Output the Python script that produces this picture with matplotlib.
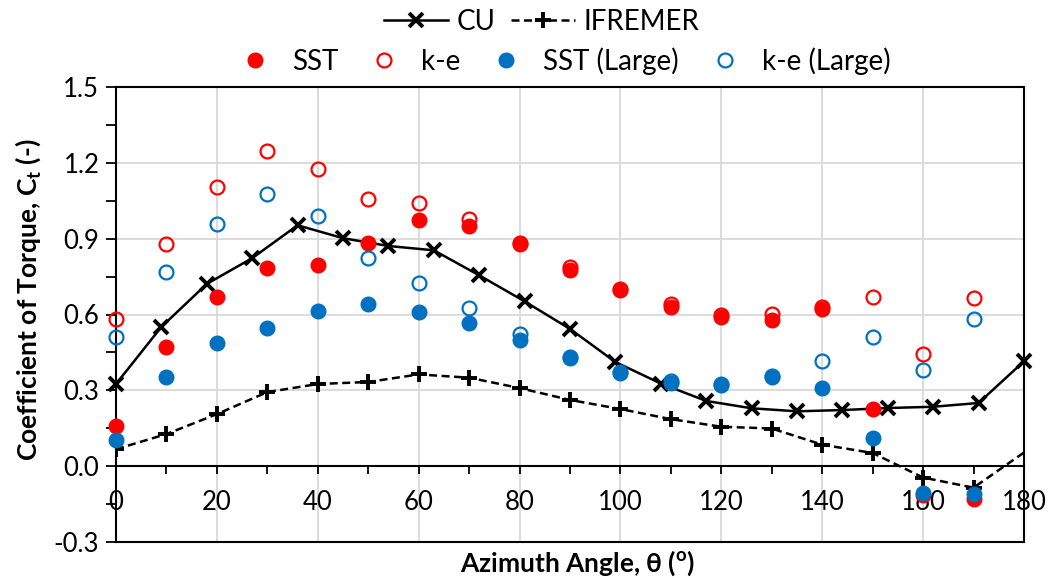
import matplotlib
matplotlib.use("Agg")
import matplotlib.pyplot as plt
from matplotlib.lines import Line2D
from matplotlib.ticker import MultipleLocator

plt.rcParams['font.family'] = ['Lato', 'DejaVu Sans']
plt.rcParams['mathtext.fontset'] = 'custom'
plt.rcParams['mathtext.rm'] = 'Lato'
plt.rcParams['mathtext.bf'] = 'Lato:bold'

# CU experimental curve (every 9 degrees)
cu_theta = [0, 9, 18, 27, 36, 45, 54, 63, 72, 81, 90, 99, 108, 117, 126, 135,
            144, 153, 162, 171, 180]
cu_ct = [0.325, 0.551, 0.721, 0.823, 0.953, 0.902, 0.871, 0.854, 0.755, 0.652,
         0.543, 0.412, 0.327, 0.258, 0.229, 0.217, 0.222, 0.230, 0.235, 0.250,
         0.415]

# IFREMER experimental curve
if_theta = [0, 10, 20, 30, 40, 50, 60, 70, 80, 90, 100, 110, 120, 130, 140,
            150, 160, 170, 180]
if_ct = [0.067, 0.127, 0.206, 0.293, 0.325, 0.333, 0.363, 0.350, 0.309, 0.262,
         0.226, 0.186, 0.156, 0.149, 0.085, 0.052, -0.045, -0.085, 0.054]

# CFD results
cfd_theta = [0, 10, 20, 30, 40, 50, 60, 70, 80, 90, 100, 110, 120, 130, 140,
             150, 160, 170]
sst = [0.157, 0.473, 0.671, 0.783, 0.794, 0.884, 0.972, 0.949, 0.877, 0.778,
       0.698, 0.630, 0.590, 0.579, 0.620, 0.226, -0.115, -0.131]
ke = [0.583, 0.880, 1.104, 1.247, 1.174, 1.055, 1.042, 0.979, 0.882, 0.786,
      0.702, 0.640, 0.598, 0.602, 0.628, 0.669, 0.444, 0.666]
sst_large = [0.104, 0.351, 0.486, 0.547, 0.612, 0.642, 0.609, 0.566, 0.499,
             0.427, 0.367, 0.330, 0.325, 0.354, 0.309, 0.110, -0.107, -0.111]
ke_large = [0.512, 0.770, 0.959, 1.078, 0.988, 0.824, 0.725, 0.625, 0.523,
            0.432, 0.372, 0.336, 0.322, 0.358, 0.417, 0.510, 0.382, 0.583]

x_ticks = [0, 20, 40, 60, 80, 100, 120, 140, 160, 180]
y_ticks = [-0.3, 0.0, 0.3, 0.6, 0.9, 1.2, 1.5]

RED = '#FF0000'
BLUE = '#0070C0'
GRID = '#D9D9D9'
DASH = (0, (3.2, 1.8))

TICK_FS = 18.5
LABEL_FS = 19
LEG_FS = 20

fig = plt.figure(figsize=(10.5, 5.78), dpi=100)
ax = fig.add_axes([116 / 1050, 1 - 542 / 578, (1024 - 116) / 1050, (542 - 87) / 578])

ax.set_xlim(0, 180)
ax.set_ylim(-0.3, 1.5)

# grid
ax.set_xticks(x_ticks)
ax.xaxis.set_minor_locator(MultipleLocator(10))
ax.set_yticks(y_ticks)
ax.yaxis.set_minor_locator(MultipleLocator(0.15))
ax.grid(True, which='major', color=GRID, linewidth=1.3, zorder=0)
ax.set_axisbelow(True)

# x axis crosses at Ct = 0; frame kept around the plot area
for side in ['left', 'right', 'top', 'bottom']:
    ax.spines[side].set_color('black')
    ax.spines[side].set_linewidth(1.5)
ax.spines['bottom'].set_position(('data', 0.0))
ax.plot([0, 1], [0, 0], transform=ax.transAxes, color='black', lw=1.5,
        clip_on=False, zorder=5)

ax.tick_params(axis='x', which='both', direction='out', length=6, width=1.3,
               pad=11, labelsize=TICK_FS, colors='black')
ax.tick_params(axis='x', which='minor', labelbottom=False)
ax.tick_params(axis='y', which='both', direction='out', length=7, width=1.3,
               pad=5, labelsize=TICK_FS, colors='black')
ax.set_yticklabels([f'{v:.1f}' for v in y_ticks])
ax.set_xticklabels([str(v) for v in x_ticks])

# series
ax.plot(cu_theta, cu_ct, color='black', lw=1.8, marker='x', ms=10, mew=2.8,
        zorder=6, clip_on=False)
ax.plot(if_theta, if_ct, color='black', lw=1.8, ls=DASH, marker='+',
        ms=11, mew=2.8, markevery=list(range(len(if_theta) - 1)), zorder=6,
        clip_on=True)
ax.plot(cfd_theta, sst, ls='none', marker='o', ms=10.5, color=RED, mec=RED,
        zorder=7, clip_on=False)
ax.plot(cfd_theta, ke, ls='none', marker='o', ms=10, mfc='none', mec=RED,
        mew=1.6, zorder=7, clip_on=False)
ax.plot(cfd_theta, sst_large, ls='none', marker='o', ms=10.5, color=BLUE,
        mec=BLUE, zorder=7, clip_on=False)
ax.plot(cfd_theta, ke_large, ls='none', marker='o', ms=10, mfc='none',
        mec=BLUE, mew=1.6, zorder=7, clip_on=False)

ax.set_xlabel(r'Azimuth Angle, θ ($^\mathbf{o}$)', fontsize=LABEL_FS,
              fontweight='bold', va='center')
ax.xaxis.set_label_coords(0.508, -21 / 455)
ax.set_ylabel(r'Coefficient of Torque, C$_\mathbf{t}$ (-)', fontsize=LABEL_FS,
              fontweight='bold', va='center')
ax.yaxis.set_label_coords(-88 / 908, 0.533)

# legends
h_cu = Line2D([], [], color='black', lw=1.8, marker='x', ms=10, mew=2.8)
h_if = Line2D([], [], color='black', lw=1.8, ls=DASH, marker='+',
              ms=11, mew=2.8)
leg1 = fig.legend([h_cu, h_if], ['CU', 'IFREMER'], loc='center',
                  bbox_to_anchor=(542 / 1050, 1 - 22 / 578), ncol=2,
                  frameon=False, fontsize=LEG_FS, handlelength=2.3,
                  handletextpad=0.32, columnspacing=0.55, borderpad=0,
                  borderaxespad=0)
h_sst = Line2D([], [], ls='none', marker='o', ms=10.5, color=RED)
h_ke = Line2D([], [], ls='none', marker='o', ms=10, mfc='none', mec=RED, mew=1.6)
h_sstl = Line2D([], [], ls='none', marker='o', ms=10.5, color=BLUE)
h_kel = Line2D([], [], ls='none', marker='o', ms=10, mfc='none', mec=BLUE, mew=1.6)
leg2 = fig.legend([h_sst, h_ke, h_sstl, h_kel],
                  ['SST', 'k-e', 'SST (Large)', 'k-e (Large)'], loc='center',
                  bbox_to_anchor=(560 / 1050, 1 - 61 / 578), ncol=4,
                  frameon=False, fontsize=LEG_FS, handlelength=1.8,
                  handletextpad=0.43, columnspacing=0.75, borderpad=0,
                  borderaxespad=0)

fig.savefig('out.png', dpi=100)
